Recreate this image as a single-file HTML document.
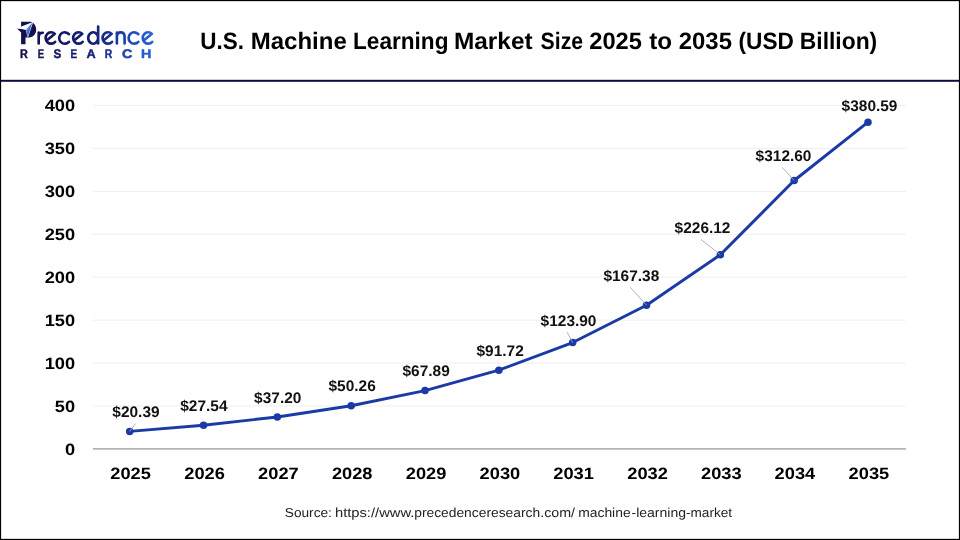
<!DOCTYPE html>
<html><head><meta charset="utf-8"><title>U.S. Machine Learning Market Size 2025 to 2035</title>
<style>
html,body{margin:0;padding:0;background:#fff;}
body{width:960px;height:540px;overflow:hidden;font-family:"Liberation Sans",sans-serif;}
svg{display:block;will-change:transform;}
text{font-family:"Liberation Sans",sans-serif;text-rendering:geometricPrecision;}
</style></head><body>
<svg width="960" height="540" viewBox="0 0 960 540">
<defs>
<linearGradient id="lg" gradientUnits="userSpaceOnUse" x1="20" y1="0" x2="155" y2="0">
<stop offset="0" stop-color="#13114c"/><stop offset="0.55" stop-color="#15207a"/><stop offset="0.8" stop-color="#1d44b4"/><stop offset="1" stop-color="#2a68e0"/>
</linearGradient>
</defs>
<rect x="0" y="0" width="960" height="540" fill="#fff"/>

<g id="grid">
<line x1="92.9" x2="906" y1="405.97" y2="405.97" stroke="#eeeeee" stroke-width="1"/>
<line x1="92.9" x2="906" y1="363.05" y2="363.05" stroke="#eeeeee" stroke-width="1"/>
<line x1="92.9" x2="906" y1="320.12" y2="320.12" stroke="#eeeeee" stroke-width="1"/>
<line x1="92.9" x2="906" y1="277.20" y2="277.20" stroke="#eeeeee" stroke-width="1"/>
<line x1="92.9" x2="906" y1="234.27" y2="234.27" stroke="#eeeeee" stroke-width="1"/>
<line x1="92.9" x2="906" y1="191.35" y2="191.35" stroke="#eeeeee" stroke-width="1"/>
<line x1="92.9" x2="906" y1="148.42" y2="148.42" stroke="#eeeeee" stroke-width="1"/>
<line x1="92.9" x2="906" y1="105.50" y2="105.50" stroke="#eeeeee" stroke-width="1"/>
<line x1="92.9" x2="906" y1="448.90" y2="448.90" stroke="#b6b6b6" stroke-width="1.7"/>
</g>
<g id="yaxis" font-weight="bold" font-size="16.4px" fill="#000">
<text transform="translate(65.03 454.65) scale(1.1140 1)">0</text>
<text transform="translate(54.73 411.72) scale(1.1140 1)">50</text>
<text transform="translate(44.70 368.80) scale(1.1140 1)">100</text>
<text transform="translate(44.70 325.88) scale(1.1140 1)">150</text>
<text transform="translate(44.70 282.95) scale(1.1140 1)">200</text>
<text transform="translate(44.70 240.02) scale(1.1140 1)">250</text>
<text transform="translate(44.70 197.10) scale(1.1140 1)">300</text>
<text transform="translate(44.70 154.17) scale(1.1140 1)">350</text>
<text transform="translate(44.70 111.25) scale(1.1140 1)">400</text>
</g>
<g id="xaxis" font-weight="bold" font-size="16.4px" fill="#000">
<text transform="translate(110.28 478.80) scale(1.1140 1)">2025</text>
<text transform="translate(184.25 478.80) scale(1.1140 1)">2026</text>
<text transform="translate(258.08 478.80) scale(1.1140 1)">2027</text>
<text transform="translate(331.91 478.80) scale(1.1140 1)">2028</text>
<text transform="translate(405.74 478.80) scale(1.1140 1)">2029</text>
<text transform="translate(479.57 478.80) scale(1.1140 1)">2030</text>
<text transform="translate(553.26 478.80) scale(1.1140 1)">2031</text>
<text transform="translate(627.23 478.80) scale(1.1140 1)">2032</text>
<text transform="translate(701.06 478.80) scale(1.1140 1)">2033</text>
<text transform="translate(774.61 478.80) scale(1.1140 1)">2034</text>
<text transform="translate(848.58 478.80) scale(1.1140 1)">2035</text>
</g>
<path id="series" d="M129.70 431.40 L203.53 425.26 L277.36 416.96 L351.19 405.75 L425.02 390.62 L498.85 370.16 L572.68 342.53 L646.51 305.20 L720.34 254.78 L794.17 180.53 L868.00 122.16" fill="none" stroke="#1a3ba5" stroke-width="2.95" stroke-linejoin="round" stroke-linecap="round"/>
<g id="markers" fill="#1a3ba5">
<circle cx="129.70" cy="431.40" r="3.75"/>
<circle cx="203.53" cy="425.26" r="3.75"/>
<circle cx="277.36" cy="416.96" r="3.75"/>
<circle cx="351.19" cy="405.75" r="3.75"/>
<circle cx="425.02" cy="390.62" r="3.75"/>
<circle cx="498.85" cy="370.16" r="3.75"/>
<circle cx="572.68" cy="342.53" r="3.75"/>
<circle cx="646.51" cy="305.20" r="3.75"/>
<circle cx="720.34" cy="254.78" r="3.75"/>
<circle cx="794.17" cy="180.53" r="3.75"/>
<circle cx="868.00" cy="122.16" r="3.75"/>
</g>
<g id="leaders">
<line x1="135.6" y1="423.5" x2="129.70" y2="431.40" stroke="#a8a8a8" stroke-width="0.9"/>
<line x1="567.1" y1="332.2" x2="572.68" y2="342.53" stroke="#a8a8a8" stroke-width="0.9"/>
<line x1="630.2" y1="287.2" x2="646.51" y2="305.20" stroke="#a8a8a8" stroke-width="0.9"/>
<line x1="700.9" y1="239.4" x2="720.34" y2="254.78" stroke="#a8a8a8" stroke-width="0.9"/>
<line x1="782.2" y1="167.4" x2="794.17" y2="180.53" stroke="#a8a8a8" stroke-width="0.9"/>
</g>
<g id="datalabels" font-weight="bold" font-size="15.3px" fill="#111">
<text transform="translate(112.32 417.15) scale(1.0100 1)">$20.39</text>
<text transform="translate(180.26 411.20) scale(1.0100 1)">$27.54</text>
<text transform="translate(254.12 402.90) scale(1.0100 1)">$37.20</text>
<text transform="translate(328.47 391.10) scale(1.0100 1)">$50.26</text>
<text transform="translate(402.47 375.90) scale(1.0100 1)">$67.89</text>
<text transform="translate(476.52 355.70) scale(1.0100 1)">$91.72</text>
<text transform="translate(540.62 325.90) scale(1.0100 1)">$123.90</text>
<text transform="translate(603.40 280.70) scale(1.0100 1)">$167.38</text>
<text transform="translate(674.62 232.80) scale(1.0100 1)">$226.12</text>
<text transform="translate(755.62 160.80) scale(1.0100 1)">$312.60</text>
<text transform="translate(841.62 111.00) scale(1.0100 1)">$380.59</text>
</g>
<rect x="0" y="79.8" width="960" height="2" fill="#0c0c3e"/>
<g id="title" font-weight="bold" font-size="23.7px" fill="#000">
<text transform="translate(200.32 48.50) scale(0.9480 1)">U.S.</text>
<text transform="translate(250.73 48.50) scale(1.0135 1)">Machine</text>
<text transform="translate(353.07 48.50) scale(0.9536 1)">Learning</text>
<text transform="translate(453.95 48.50) scale(1.0301 1)">Market</text>
<text transform="translate(540.58 48.50) scale(0.8967 1)">Size</text>
<text transform="translate(589.25 48.50) scale(1.0000 1)">2025</text>
<text transform="translate(649.24 48.50) scale(1.0235 1)">to</text>
<text transform="translate(678.74 48.50) scale(1.0098 1)">2035</text>
<text transform="translate(738.54 48.50) scale(0.9554 1)">(USD</text>
<text transform="translate(799.80 48.50) scale(0.9646 1)">Billion)</text>
</g>
<g id="source" font-size="13px" fill="#222">
<text transform="translate(284.77 516.80) scale(1.0520 1)">Source:</text>
<text transform="translate(334.95 516.80) scale(1.1326 1)">https://www.</text>
<text transform="translate(414.20 516.80) scale(1.0624 1)">precedenceresearch</text>
<text transform="translate(540.20 516.80) scale(1.0959 1)">.com/</text>
<text transform="translate(578.20 516.80) scale(1.0667 1)">machine</text>
<text transform="translate(631.46 516.80) scale(1.0782 1)">-learning</text>
<text transform="translate(685.98 516.80) scale(1.0460 1)">-market</text>
</g>
<g id="logo">
<path d="M21.1 21.8 L30.5 21.8 C34 22.2 36.2 26 36.2 29.7 C36.2 34.5 32.5 37.6 28 37.6 L25.5 37.6 L25.5 44.2 L21.1 44.2 Z" fill="#13114c"/>
<path d="M17.0 28.45 L25.8 29.6 L21.1 32.5 Z" fill="#13114c"/>
<path d="M33.0 22.0 L17.4 28.1 L25.8 29.9 Z" fill="#fff"/>
<path d="M32.6 22.6 L27.6 37.3" stroke="#e8f0ff" stroke-width="0.9" fill="none"/>
<path d="M31.9 23.6 L25.8 29.8 L27.4 36.9 Z" fill="#cfe0fb"/>
<path d="M31.7 23.9 L26.5 29.8 L27.8 36.4 Z" fill="#2b60d2"/>
<path d="M31.7 23.9 L26.5 29.8 L27.0 32.5 Z" fill="#4c8bea"/>
<path d="M38.7 32.6 L38.7 43.5 M38.7 37.2 C38.7 34.2 40.4 32.7 42.8 32.7 M46.33 40.76 L54.82 33.83 A5.45 5.7 0 1 0 55.15 41.81 M68.96 34.19 A5.6 5.7 0 1 0 68.96 41.81 M73.83 40.76 L82.32 33.83 A5.45 5.7 0 1 0 82.65 41.81 M98.15 26.5 L98.15 43.5 M98.15 38 A4.95 5.7 0 1 0 98.15 38.01 M103.23 40.76 L111.72 33.83 A5.45 5.7 0 1 0 112.05 41.81 M116.9 32.6 L116.9 43.5 M116.9 36.6 C116.9 33.6 118.6 32.3 120.75 32.3 C122.9 32.3 124.6 33.6 124.6 36.6 L124.6 43.5 M138.36 34.19 A5.6 5.7 0 1 0 138.36 41.81 M143.43 40.76 L151.92 33.83 A5.45 5.7 0 1 0 152.25 41.81" fill="none" stroke="url(#lg)" stroke-width="2.65" stroke-linecap="round" stroke-linejoin="round"/>
<g font-weight="bold" font-size="12.4px" stroke-width="0.45" stroke-linejoin="round">
<text transform="translate(20.04 57.7) scale(0.875 1)" fill="#13124f" stroke="#13124f">R</text>
<text transform="translate(37.63 57.7) scale(0.766 1)" fill="#141559" stroke="#141559">E</text>
<text transform="translate(53.52 57.7) scale(0.940 1)" fill="#141963" stroke="#141963">S</text>
<text transform="translate(70.40 57.7) scale(0.800 1)" fill="#141c6d" stroke="#141c6d">E</text>
<text transform="translate(86.44 57.7) scale(1.024 1)" fill="#151f78" stroke="#151f78">A</text>
<text transform="translate(104.77 57.7) scale(0.837 1)" fill="#182f93" stroke="#182f93">R</text>
<text transform="translate(121.92 57.7) scale(1.163 1)" fill="#1d43b3" stroke="#1d43b3">C</text>
<text transform="translate(140.94 57.7) scale(1.147 1)" fill="#265cd1" stroke="#265cd1">H</text>
</g></g>
<g id="border" fill="#000"><rect x="0" y="0" width="960" height="1.15"/><rect x="0" y="0" width="1.1" height="540"/><rect x="958.9" y="0" width="1.1" height="540"/><rect x="0" y="538.85" width="960" height="1.15"/></g>
</svg></body></html>
